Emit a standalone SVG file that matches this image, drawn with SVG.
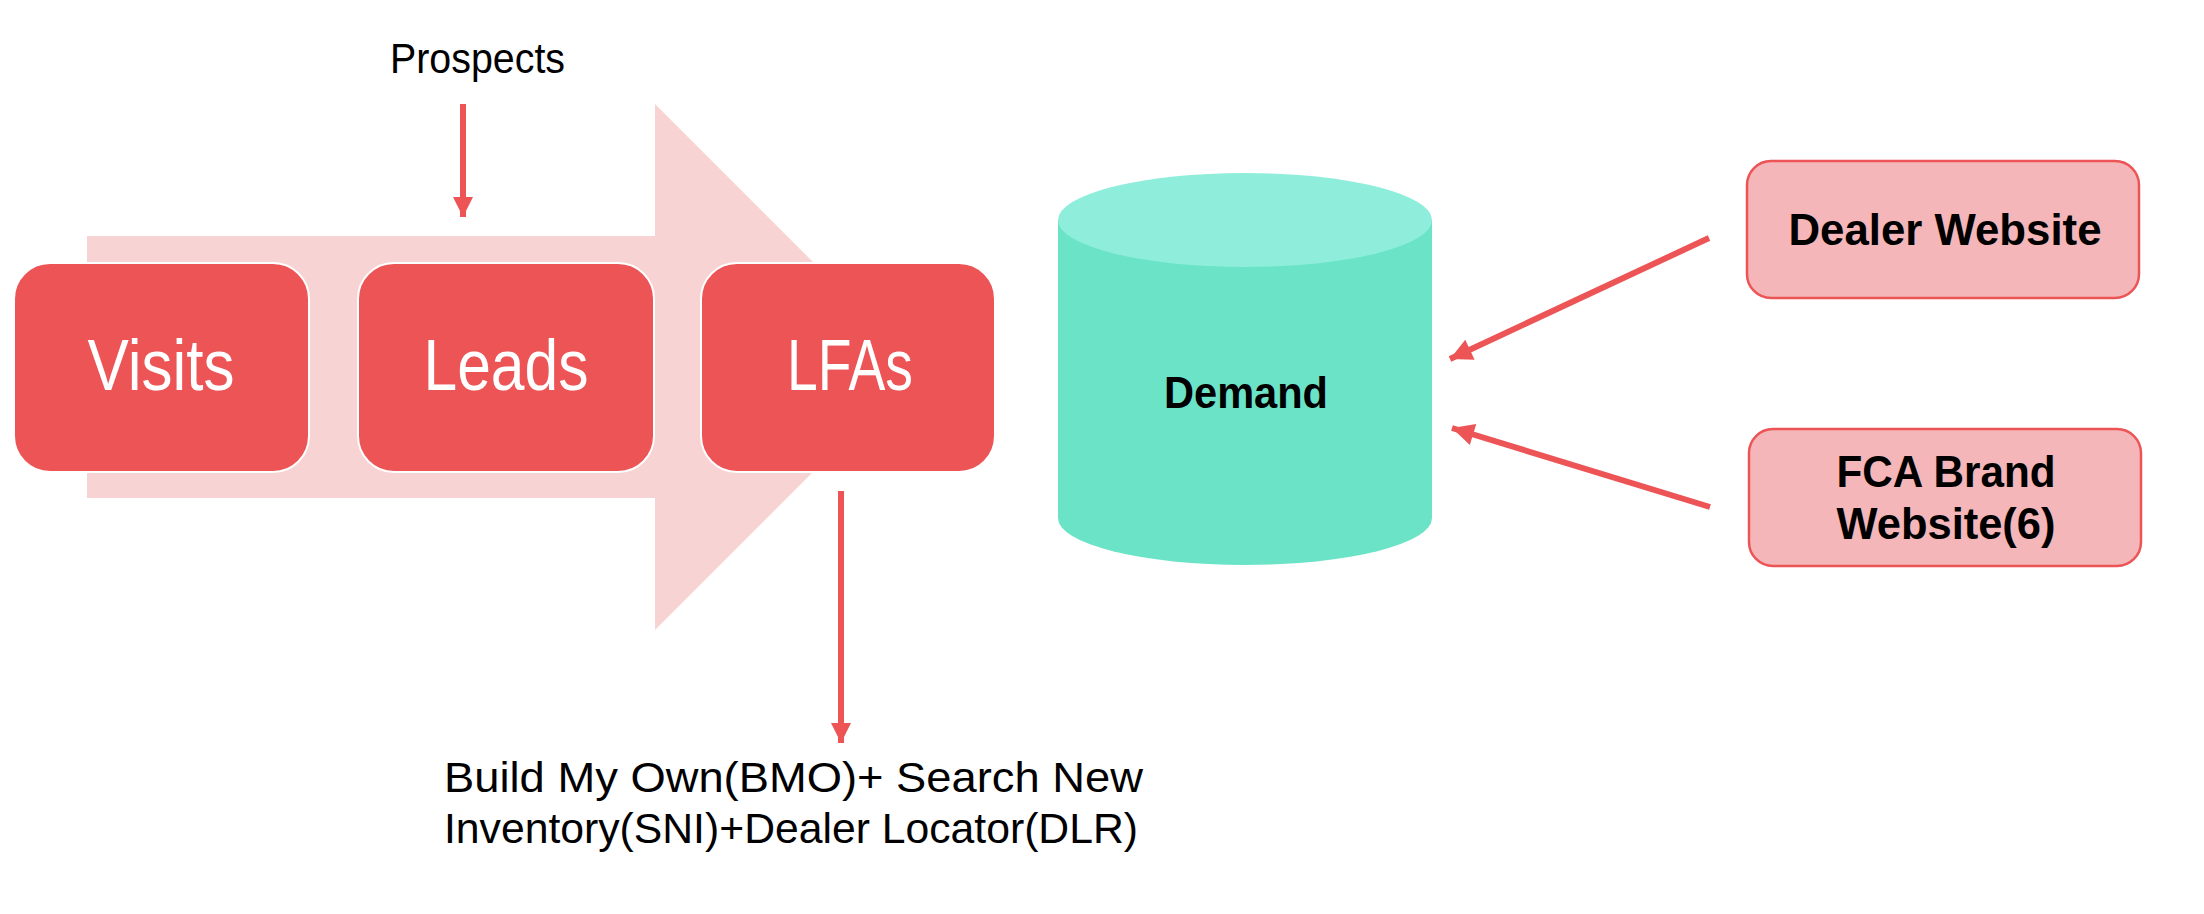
<svg xmlns="http://www.w3.org/2000/svg" width="2204" height="914" viewBox="0 0 2204 914">
  <defs>
    <style>
      .stage { fill: #EC5456; stroke: #FFFFFF; stroke-width: 2; }
      .stageText { font-family: "Liberation Sans", Arial, sans-serif; font-size: 72px; fill: #FFFFFF; text-anchor: middle; }
      .label { font-family: "Liberation Sans", Arial, sans-serif; font-size: 43px; fill: #000000; }
      .src { fill: #F4B6B8; stroke: #EC5456; stroke-width: 2.5; }
      .srcText { font-family: "Liberation Sans", Arial, sans-serif; font-size: 45px; font-weight: bold; fill: #000000; text-anchor: middle; }
      .conn { stroke: #EC5456; stroke-width: 6; fill: none; }
    </style>
    <marker id="ah" viewBox="0 0 10 10" refX="10" refY="5" markerUnits="userSpaceOnUse" markerWidth="22" markerHeight="20" orient="auto">
      <path d="M0,0 L10,5 L0,10 Z" fill="#EC5456"/>
    </marker>
    <marker id="ah2" viewBox="0 0 10 10" refX="10" refY="5" markerUnits="userSpaceOnUse" markerWidth="26" markerHeight="22" orient="auto">
      <path d="M0,0 L10,5 L0,10 Z" fill="#EC5456"/>
    </marker>
  </defs>

  <rect width="2204" height="914" fill="#FFFFFF"/>

  <!-- big background arrow -->
  <g id="flow-arrow">
    <polygon points="87,236 655,236 655,104 918,367 655,630 655,498 87,498" fill="#F8D3D3"/>
  </g>

  <g id="visits">
    <rect class="stage" x="14" y="263" width="295" height="209" rx="36" ry="36"/>
    <text class="stageText" x="161" y="390" textLength="147" lengthAdjust="spacingAndGlyphs">Visits</text>
  </g>
  <g id="leads">
    <rect class="stage" x="358" y="263" width="296" height="209" rx="36" ry="36"/>
    <text class="stageText" x="506" y="390" textLength="165" lengthAdjust="spacingAndGlyphs">Leads</text>
  </g>
  <g id="lfas">
    <rect class="stage" x="701" y="263" width="294" height="209" rx="36" ry="36"/>
    <text class="stageText" x="850" y="390" textLength="126" lengthAdjust="spacingAndGlyphs">LFAs</text>
  </g>

  <g id="prospects">
    <text class="label" x="390" y="73" textLength="175" lengthAdjust="spacingAndGlyphs">Prospects</text>
  </g>

  <g id="lfa-sources">
    <text class="label" x="444" y="792" textLength="699" lengthAdjust="spacingAndGlyphs">Build My Own(BMO)+ Search New</text>
    <text class="label" x="444" y="843" textLength="694" lengthAdjust="spacingAndGlyphs">Inventory(SNI)+Dealer Locator(DLR)</text>
  </g>

  <g id="demand">
    <path d="M1058,220 L1058,518 A187,47 0 0 0 1432,518 L1432,220 Z" fill="#6BE3C7"/>
    <ellipse cx="1245" cy="220" rx="187" ry="47" fill="#8FEEDB"/>
    <text class="srcText" x="1246" y="408" textLength="164" lengthAdjust="spacingAndGlyphs">Demand</text>
  </g>

  <g id="dealer-website">
    <rect class="src" x="1747" y="161" width="392" height="137" rx="24" ry="24"/>
    <text class="srcText" x="1945" y="245" textLength="313" lengthAdjust="spacingAndGlyphs">Dealer Website</text>
  </g>

  <g id="fca-brand-website">
    <rect class="src" x="1749" y="429" width="392" height="137" rx="24" ry="24"/>
    <text class="srcText" x="1946" y="487" textLength="219" lengthAdjust="spacingAndGlyphs">FCA Brand</text>
    <text class="srcText" x="1946" y="539" textLength="219" lengthAdjust="spacingAndGlyphs">Website(6)</text>
  </g>

  <g id="connectors">
    <line class="conn" x1="463" y1="104" x2="463" y2="217" marker-end="url(#ah)"/>
    <line class="conn" x1="841" y1="491" x2="841" y2="743" marker-end="url(#ah)"/>
    <line class="conn" x1="1709" y1="238" x2="1450" y2="359" marker-end="url(#ah2)"/>
    <line class="conn" x1="1710" y1="507" x2="1452" y2="428" marker-end="url(#ah2)"/>
  </g>
</svg>
